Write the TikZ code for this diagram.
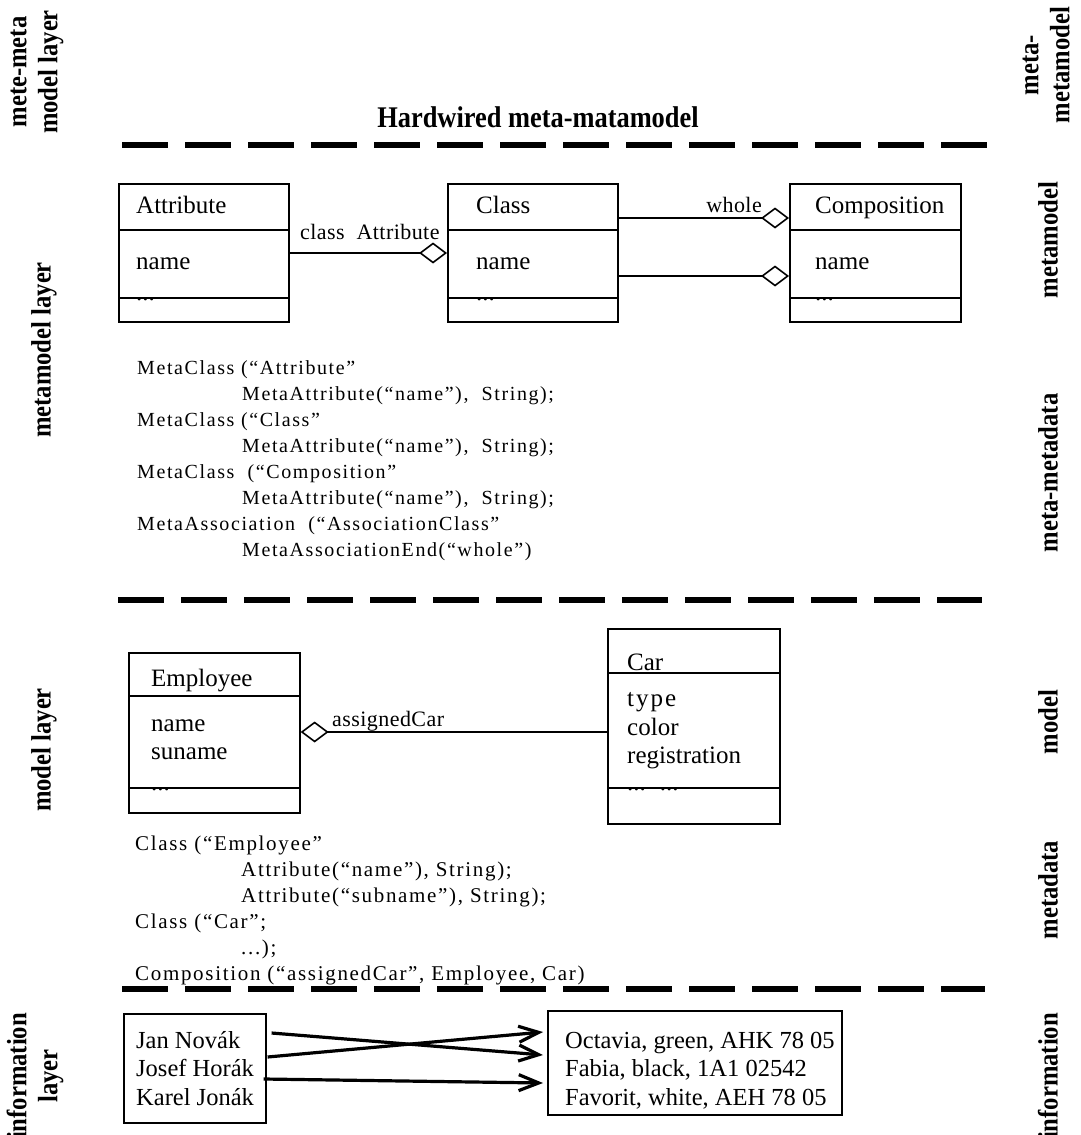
\documentclass[tikz,border=0pt]{standalone}
\usepackage{fontspec}
\setmainfont{Liberation Serif}
\newfontfamily\metafont{Liberation Serif}[LetterSpace=8]
\newfontfamily\linkfont{Liberation Serif}[LetterSpace=2]
\newfontfamily\layerfont{Liberation Serif}[FakeStretch=0.88]
\usetikzlibrary{arrows.meta}
\usetikzlibrary{positioning}
\tikzset{box/.style = {draw, line width = 1.6pt, inner sep = 0, anchor = north west}}
\tikzset{sep/.style = {line width = 1.6pt}}
\tikzset{txt/.style = {anchor = base west, inner sep = 0, font = \fontsize{25}{30}\selectfont}}
\tikzset{meta/.style = {anchor = north west, inner sep = 0, align = left}}
\tikzset{lbl/.style = {anchor = base west, inner sep = 0, font = \linkfont\fontsize{22}{26}\selectfont}}
\tikzset{agg/.style = {line width = 1.6pt, -{Diamond[open, length = 28pt, width = 21pt]}}}
\tikzset{level/.style = {line width = 6pt, dash pattern = on 46pt off 17pt}}
\tikzset{side/.style = {rotate = 90, align = center, inner sep = 0, font = \layerfont\bfseries\fontsize{28}{31}\selectfont}}
\tikzset{inst/.style = {anchor = base west, inner sep = 0, align = left, font = \fontsize{24.5}{28.5}\selectfont}}
\tikzset{link/.style = {line width = 3.2pt, -{Straight Barb[length = 20pt, width = 16pt]}}}

\begin{document}
\begin{tikzpicture}[x = 1pt, y = -1pt]
    \useasboundingbox (0, 0) rectangle (1080, 1135);
    % layer names
    \node [side] (mmlayer) at (37, 72) {mete-meta\\model layer};
    \node [side] (mlayer) at (44, 350) {metamodel layer};
    \node [side] (modlayer) at (44, 750) {model layer};
    \node [side] (infolayer) at (35, 1076) {information\\layer};
    \node [side] (mmname) at (1046, 65) {meta-\\metamodel};
    \node [side] (mname) at (1048, 240) {metamodel};
    \node [side] (mmdata) at (1048, 473) {meta-metadata};
    \node [side] (modname) at (1048, 722) {model};
    \node [side] (mdata) at (1048, 890) {metadata};
    \node [side] (infoname) at (1048, 1076) {information};
    \node [font = \layerfont\bfseries\fontsize{30}{34}\selectfont] (title) at (538, 117) {Hardwired meta-matamodel};
    \draw [level] (122, 145) -- (988, 145);
    \draw [level] (118, 600) -- (982, 600);
    \draw [level] (122, 989) -- (985, 989);
    % metamodel
    \node [box, minimum width = 170pt, minimum height = 138pt] (attr) at (118, 183) {};
    \node [box, minimum width = 170pt, minimum height = 138pt] (cls) at (447, 183) {};
    \node [box, minimum width = 171pt, minimum height = 138pt] (comp) at (789, 183) {};
    \draw [sep] ([yshift = -47pt]attr.north west) -- ([yshift = -47pt]attr.north east);
    \draw [sep] ([yshift = -115pt]attr.north west) -- ([yshift = -115pt]attr.north east);
    \draw [sep] ([yshift = -47pt]cls.north west) -- ([yshift = -47pt]cls.north east);
    \draw [sep] ([yshift = -115pt]cls.north west) -- ([yshift = -115pt]cls.north east);
    \draw [sep] ([yshift = -47pt]comp.north west) -- ([yshift = -47pt]comp.north east);
    \draw [sep] ([yshift = -115pt]comp.north west) -- ([yshift = -115pt]comp.north east);
    \node [txt] (attrhead) at (136, 213) {Attribute};
    \node [txt] (attrname) at (136, 269) {name};
    \node [txt] (attrmore) at (136, 300) {...};
    \node [txt] (clshead) at (476, 213) {Class};
    \node [txt] (clsname) at (476, 269) {name};
    \node [txt] (clsmore) at (476, 300) {...};
    \node [txt] (comphead) at (815, 213) {Composition};
    \node [txt] (compname) at (815, 269) {name};
    \node [txt] (compmore) at (815, 300) {...};
    \draw [agg] ([yshift = -70pt]attr.north east) -- ([yshift = -70pt]cls.north west);
    \draw [agg] ([yshift = -35pt]cls.north east) -- ([yshift = -35pt]comp.north west);
    \draw [agg] ([yshift = -93pt]cls.north east) -- ([yshift = -93pt]comp.north west);
    \node [lbl] (clsattr) at (300, 239) {class\ \ Attribute};
    \node [lbl, anchor = base east] (whole) at (762, 212) {whole};
    \node [meta, font = \metafont\fontsize{20}{26}\selectfont] (metadef) at (137, 360)
      {MetaClass (“Attribute”\\
       \hspace*{105pt}MetaAttribute(“name”),\ \ String);\\
       MetaClass (“Class”\\
       \hspace*{105pt}MetaAttribute(“name”),\ \ String);\\
       MetaClass\ \ (“Composition”\\
       \hspace*{105pt}MetaAttribute(“name”),\ \ String);\\
       MetaAssociation\ \ (“AssociationClass”\\
       \hspace*{105pt}MetaAssociationEnd(“whole”)};
    % model
    \node [box, minimum width = 171pt, minimum height = 160pt] (emp) at (128, 652) {};
    \node [box, minimum width = 172pt, minimum height = 195pt] (car) at (607, 628) {};
    \draw [sep] ([yshift = -44pt]emp.north west) -- ([yshift = -44pt]emp.north east);
    \draw [sep] ([yshift = -136pt]emp.north west) -- ([yshift = -136pt]emp.north east);
    \draw [sep] ([yshift = -45pt]car.north west) -- ([yshift = -45pt]car.north east);
    \draw [sep] ([yshift = -160pt]car.north west) -- ([yshift = -160pt]car.north east);
    \node [txt] (emphead) at (151, 686) {Employee};
    \node [txt] (empname) at (151, 731) {name};
    \node [txt] (empsur) at (151, 759) {suname};
    \node [txt] (empmore) at (151, 790) {...};
    \node [txt] (carhead) at (627, 670) {Car};
    \node [txt] (cartype) at (627, 706) {t\kern2pt y\kern2pt p\kern2pt e};
    \node [txt] (carcolor) at (627, 735) {color};
    \node [txt] (carreg) at (627, 763) {registration};
    \node [txt] (carmore) at (627, 790) {...\hspace{14pt}...};
    \draw [agg] ([yshift = -104pt]car.north west) -- ([yshift = -80pt]emp.north east);
    \node [lbl] (assigned) at (332, 726) {assignedCar};
    \node [meta, font = \metafont\fontsize{21}{26}\selectfont] (moddef) at (135, 836)
      {Class (“Employee”\\
       \hspace*{106pt}Attribute(“name”), String);\\
       \hspace*{106pt}Attribute(“subname”), String);\\
       Class (“Car”;\\
       \hspace*{106pt}...);\\
       Composition (“assignedCar”, Employee, Car)};
    % information
    \node [box, minimum width = 142pt, minimum height = 109pt] (people) at (123, 1013) {};
    \node [box, minimum width = 294pt, minimum height = 104pt] (cars) at (547, 1010) {};
    \node [inst] (names) at (136, 1105) {Jan Novák\\Josef Horák\\Karel Jonák};
    \node [inst] (plates) at (565, 1105) {Octavia, green, AHK 78 05\\Fabia, black, 1A1 02542\\Favorit, white, AEH 78 05};
    \draw [link] ([xshift = 5pt, yshift = -20pt]people.north east) -- ([xshift = -4pt, yshift = -45pt]cars.north west);
    \draw [link] ([xshift = 1pt, yshift = -44pt]people.north east) -- ([xshift = -4pt, yshift = -22pt]cars.north west);
    \draw [link] ([xshift = -3pt, yshift = -66pt]people.north east) -- ([xshift = -4pt, yshift = -73pt]cars.north west);
\end{tikzpicture}
\end{document}
